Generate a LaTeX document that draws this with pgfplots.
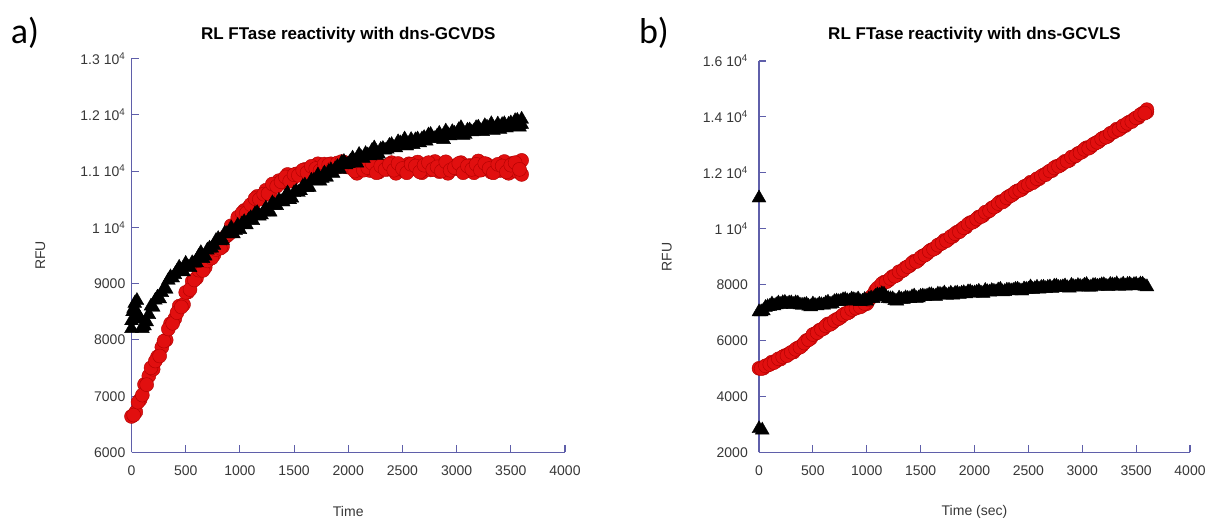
\documentclass[border=0pt]{standalone}
\usepackage{pgfplots}
\pgfplotsset{compat=1.18}
\usepackage{fontspec}
\setmainfont{Liberation Sans}
\newfontfamily\calibri{Carlito}
\definecolor{axcol}{RGB}{95,95,170}
\definecolor{redfill}{RGB}{225,15,15}
\definecolor{rededge}{RGB}{175,0,0}
\definecolor{txt}{RGB}{55,55,55}
\newcommand{\tk}{\fontsize{14}{16}\selectfont}
\pgfplotsset{
  panel/.style={
    scale only axis, anchor=south west,
    axis x line*=bottom, axis y line*=left,
    axis line style={axcol, line width=1.1pt},
    tick style={axcol, line width=1.1pt},
    major tick length=7pt, tick align=inside,
    xmin=0, xmax=4000, xtick={0,500,...,4000},
    xticklabels={0,500,1000,1500,2000,2500,3000,3500,4000},
    xticklabel style={anchor=center, yshift=-18.5pt, font=\tk, text=txt},
    yticklabel style={anchor=east, inner sep=0pt, font=\tk, text=txt},
    scaled y ticks=false,
    clip=false,
    title style={font=\bfseries\fontsize{17}{20}\selectfont, anchor=center},
    xlabel style={anchor=center, font=\tk, text=txt},
    ylabel style={anchor=center, font=\tk, text=txt},
  },
  redser/.style={only marks, mark=*, mark size=7pt, mark options={fill=redfill, draw=rededge, line width=0.4pt}},
  blkser/.style={only marks, mark=triangle*, mark size=8pt, mark options={fill=black, draw=black}},
}
\begin{document}
\begin{tikzpicture}[x=1pt,y=1pt]
\path[use as bounding box] (0,0) rectangle (1213,525);
\node[font=\calibri\fontsize{36}{40}\selectfont, anchor=center] at (25,492) {a)};
\node[font=\calibri\fontsize{36}{40}\selectfont, anchor=center] at (654,492) {b)};
% ---------- panel a ----------
\begin{axis}[panel, at={(131.5pt,72.5pt)}, width=433.5pt, height=394pt,
  ymin=6000, ymax=13000, ytick={6000,7000,...,13000},
  yticklabels={6000,7000,8000,9000,{1 10\textsuperscript{4}},{1.1 10\textsuperscript{4}},{1.2 10\textsuperscript{4}},{1.3 10\textsuperscript{4}}},
  yticklabel style={xshift=-6pt},
  title={RL FTase reactivity with dns-GCVDS},
  title style={at={(axis description cs:0.5,1.045)}},
  xlabel={Time}, xlabel style={at={(axis description cs:0.5,-0.151)}},
  ylabel={RFU}, ylabel style={at={(axis description cs:-0.21,0.5)}},
]
\addplot[redser] coordinates {
(0,6640)(40,6720)(80,6940)(120,7210)(160,7360)(200,7480)(240,7700)(280,7870)(320,8000)(360,8290)
(400,8380)(440,8600)(480,8630)(520,8850)(560,9040)(600,9100)(640,9330)(680,9290)(720,9450)(760,9510)
(800,9650)(840,9660)(880,9850)(920,10030)(960,10050)(1000,10140)(1040,10300)(1080,10350)(1120,10370)(1160,10550)
(1200,10530)(1240,10660)(1280,10600)(1320,10730)(1360,10830)(1400,10800)(1440,10940)(1480,10850)(1520,10950)(1560,10950)
(1600,11030)(1640,10970)(1680,11070)(1720,11130)(1760,11050)(1800,11030)(1840,11130)(1880,11120)(1920,11080)(1960,11160)
(2000,11070)(2040,11130)(2080,10960)(2120,11060)(2160,11120)(2200,11010)(2240,11180)(2280,10980)(2320,11090)(2360,11030)
(2400,11150)(2440,10960)(2480,11100)(2520,11000)(2560,11130)(2600,11040)(2640,11160)(2680,10970)(2720,11080)(2760,11020)
(2800,11170)(2840,10990)(2880,11110)(2920,10960)(2960,11090)(3000,11040)(3040,11150)(3080,11000)(3120,11100)(3160,10970)
(3200,11180)(3240,11030)(3280,11120)(3320,10980)(3360,11070)(3400,11010)(3440,11170)(3480,10960)(3520,11140)(3560,10990)
(3600,11190)(3600,10940)
};
\addplot[redser] coordinates {
(20,6665)(60,6895)(100,7020)(140,7205)(180,7505)(220,7625)(260,7715)(300,7980)(340,8195)(380,8295)
(420,8485)(460,8585)(500,8845)(540,8895)(580,9065)(620,9240)(660,9235)(700,9405)(740,9455)(780,9605)
(820,9630)(860,9820)(900,9885)(940,9960)(980,10180)(1020,10255)(1060,10255)(1100,10405)(1140,10510)(1180,10500)
(1220,10590)(1260,10600)(1300,10770)(1340,10730)(1380,10810)(1420,10895)(1460,10820)(1500,10935)(1540,10925)(1580,11015)
(1620,10975)(1660,11085)(1700,11045)(1740,11010)(1780,11125)(1820,11115)(1860,11055)(1900,11145)(1940,11170)(1980,11075)
(2020,11095)(2060,11000)(2100,11165)(2140,11015)(2180,11060)(2220,11135)(2260,10970)(2300,11090)(2340,11030)(2380,11120)
(2420,11015)(2460,11135)(2500,11045)(2540,10970)(2580,11120)(2620,11090)(2660,10985)(2700,11105)(2740,11150)(2780,11030)
(2820,11075)(2860,11000)(2900,11165)(2940,11015)(2980,11060)(3020,11135)(3060,10970)(3100,11090)(3140,11030)(3180,11120)
(3220,11015)(3260,11135)(3300,11045)(3340,10970)(3380,11120)(3420,11090)(3460,10985)(3500,11105)(3540,11150)(3580,11030)
};
\addplot[blkser] coordinates {
(0,8200)(10,8500)(30,8650)(50,8700)(60,8450)(100,8200)
(0,8340)(40,8400)(80,8370)(120,8250)(160,8450)(200,8580)(240,8760)(280,8840)(320,8900)(360,9120)
(400,9160)(440,9290)(480,9210)(520,9300)(560,9370)(600,9370)(640,9550)(680,9490)(720,9630)(760,9680)
(800,9800)(840,9770)(880,9890)(920,9990)(960,9940)(1000,9960)(1040,10100)(1080,10130)(1120,10120)(1160,10260)
(1200,10220)(1240,10340)(1280,10270)(1320,10390)(1360,10480)(1400,10450)(1440,10610)(1480,10520)(1520,10640)(1560,10650)
(1600,10750)(1640,10710)(1680,10830)(1720,10930)(1760,10870)(1800,10890)(1840,11020)(1880,11040)(1920,11030)(1960,11170)
(2000,11130)(2040,11230)(2080,11140)(2120,11240)(2160,11310)(2200,11270)(2240,11410)(2280,11300)(2320,11400)(2360,11390)
(2400,11470)(2440,11410)(2480,11500)(2520,11570)(2560,11480)(2600,11470)(2640,11570)(2680,11570)(2720,11530)(2760,11650)
(2800,11580)(2840,11670)(2880,11560)(2920,11650)(2960,11700)(3000,11650)(3040,11770)(3080,11650)(3120,11730)(3160,11710)
(3200,11780)(3240,11700)(3280,11780)(3320,11840)(3360,11760)(3400,11740)(3440,11840)(3480,11830)(3520,11790)(3560,11900)
(3600,11830)(3580,11780)(3600,11920)
};
\addplot[blkser] coordinates {
(20,8560)(60,8450)(100,8230)(140,8320)(180,8600)(220,8705)(260,8730)(300,8915)(340,9060)(380,9100)
(420,9220)(460,9220)(500,9360)(540,9285)(580,9365)(620,9485)(660,9445)(700,9595)(740,9630)(780,9765)
(820,9760)(860,9895)(900,9885)(940,9885)(980,10035)(1020,10065)(1060,10045)(1100,10170)(1140,10240)(1180,10200)
(1220,10275)(1260,10275)(1300,10435)(1340,10385)(1380,10460)(1420,10555)(1460,10490)(1500,10615)(1540,10620)(1580,10725)
(1620,10705)(1660,10835)(1700,10825)(1740,10820)(1780,10965)(1820,10990)(1860,10960)(1900,11080)(1940,11150)(1980,11110)
(2020,11175)(2060,11155)(2100,11295)(2140,11225)(2180,11285)(2220,11365)(2260,11280)(2300,11385)(2340,11370)(2380,11455)
(2420,11415)(2460,11520)(2500,11480)(2540,11445)(2580,11560)(2620,11555)(2660,11500)(2700,11595)(2740,11640)(2780,11575)
(2820,11620)(2860,11585)(2900,11710)(2940,11625)(2980,11670)(3020,11735)(3060,11635)(3100,11725)(3140,11695)(3180,11770)
(3220,11715)(3260,11805)(3300,11755)(3340,11720)(3380,11835)(3420,11825)(3460,11765)(3500,11855)(3540,11895)(3580,11825)
};
\end{axis}
% ---------- panel b ----------
\begin{axis}[panel, at={(759pt,72.5pt)}, width=431pt, height=391.5pt,
  ymin=2000, ymax=16000, ytick={2000,4000,...,16000},
  yticklabels={2000,4000,6000,8000,{1 10\textsuperscript{4}},{1.2 10\textsuperscript{4}},{1.4 10\textsuperscript{4}},{1.6 10\textsuperscript{4}}},
  yticklabel style={xshift=-11pt},
  title={RL FTase reactivity with dns-GCVLS},
  title style={at={(axis description cs:0.5,1.051)}},
  xlabel={Time (sec)}, xlabel style={at={(axis description cs:0.5,-0.152)}},
  ylabel={RFU}, ylabel style={at={(axis description cs:-0.2135,0.5)}},
]
\addplot[redser] coordinates {
(0,5010)(40,5015)(80,5120)(120,5235)(160,5275)(200,5340)(240,5465)(280,5535)(320,5590)(360,5740)
(400,5830)(440,6005)(480,6085)(520,6250)(560,6370)(600,6435)(640,6600)(680,6635)(720,6760)(760,6845)
(800,6970)(840,7025)(880,7140)(920,7235)(960,7255)(1000,7320)(1040,7565)(1080,7785)(1120,7930)(1160,8090)
(1200,8150)(1240,8295)(1280,8345)(1320,8480)(1360,8610)(1400,8685)(1440,8840)(1480,8885)(1520,9030)(1560,9115)
(1600,9250)(1640,9315)(1680,9450)(1720,9585)(1760,9635)(1800,9730)(1840,9885)(1880,9975)(1920,10060)(1960,10220)
(2000,10280)(2040,10425)(2080,10475)(2120,10610)(2160,10740)(2200,10815)(2240,10970)(2280,11015)(2320,11160)(2360,11245)
(2400,11360)(2440,11415)(2480,11540)(2520,11665)(2560,11705)(2600,11790)(2640,11925)(2680,12015)(2720,12080)(2760,12230)
(2800,12280)(2840,12415)(2880,12445)(2920,12580)(2960,12690)(3000,12755)(3040,12900)(3080,12935)(3120,13060)(3160,13145)
(3200,13260)(3240,13315)(3280,13440)(3320,13565)(3360,13605)(3400,13690)(3440,13825)(3480,13915)(3520,13980)(3560,14130)
(3600,14180)(3600,14260)
};
\addplot[redser] coordinates {
(20,5000)(60,5100)(100,5150)(140,5215)(180,5350)(220,5420)(260,5465)(300,5585)(340,5690)(380,5765)
(420,5915)(460,6030)(500,6220)(540,6285)(580,6400)(620,6530)(660,6580)(700,6715)(740,6790)(780,6920)
(820,6985)(860,7115)(900,7160)(940,7205)(980,7330)(1020,7460)(1060,7640)(1100,7880)(1140,8035)(1180,8100)
(1220,8220)(1260,8305)(1300,8465)(1340,8520)(1380,8645)(1420,8775)(1460,8825)(1500,8975)(1540,9060)(1580,9195)
(1620,9270)(1660,9415)(1700,9490)(1740,9570)(1780,9725)(1820,9825)(1860,9895)(1900,10040)(1940,10165)(1980,10230)
(2020,10350)(2060,10435)(2100,10595)(2140,10650)(2180,10775)(2220,10905)(2260,10955)(2300,11105)(2340,11190)(2380,11315)
(2420,11375)(2460,11510)(2500,11575)(2540,11645)(2580,11790)(2620,11875)(2660,11935)(2700,12070)(2740,12180)(2780,12235)
(2820,12345)(2860,12415)(2900,12565)(2940,12610)(2980,12720)(3020,12840)(3060,12880)(3100,13015)(3140,13090)(3180,13215)
(3220,13275)(3260,13410)(3300,13475)(3340,13545)(3380,13690)(3420,13775)(3460,13835)(3500,13970)(3540,14080)(3580,14135)
};
\addplot[blkser] coordinates {
(0,11100)(0,2850)(30,2800)
(0,7030)(40,7065)(80,7215)(120,7310)(160,7280)(200,7290)(240,7370)(280,7345)(320,7290)(360,7340)
(400,7265)(440,7295)(480,7210)(520,7260)(560,7300)(600,7270)(640,7375)(680,7325)(720,7415)(760,7415)
(800,7470)(840,7415)(880,7465)(920,7490)(960,7410)(1000,7410)(1040,7520)(1080,7585)(1120,7620)(1160,7660)
(1200,7505)(1240,7495)(1280,7410)(1320,7480)(1360,7530)(1400,7500)(1440,7595)(1480,7525)(1520,7595)(1560,7595)
(1600,7640)(1640,7585)(1680,7655)(1720,7700)(1760,7640)(1800,7630)(1840,7700)(1880,7695)(1920,7670)(1960,7750)
(2000,7705)(2040,7765)(2080,7690)(2120,7750)(2160,7790)(2200,7750)(2240,7835)(2280,7755)(2320,7805)(2360,7795)
(2400,7840)(2440,7775)(2480,7835)(2520,7920)(2560,7860)(2600,7840)(2640,7910)(2680,7905)(2720,7870)(2760,7950)
(2800,7905)(2840,7955)(2880,7880)(2920,7930)(2960,7970)(3000,7920)(3040,8005)(3080,7915)(3120,7975)(3160,7955)
(3200,8000)(3240,7935)(3280,7995)(3320,8030)(3360,7970)(3400,7950)(3440,8020)(3480,8005)(3520,7960)(3560,8020)
(3600,7925)
};
\addplot[blkser] coordinates {
(20,7030)(60,7185)(100,7225)(140,7240)(180,7345)(220,7355)(260,7310)(300,7350)(340,7350)(380,7275)
(420,7275)(460,7230)(500,7310)(540,7245)(580,7280)(620,7340)(660,7300)(700,7395)(740,7395)(780,7460)
(820,7425)(860,7485)(900,7440)(940,7395)(980,7470)(1020,7490)(1060,7505)(1100,7635)(1140,7675)(1180,7555)
(1220,7495)(1260,7430)(1300,7520)(1340,7470)(1380,7510)(1420,7565)(1460,7510)(1500,7585)(1540,7575)(1580,7635)
(1620,7595)(1660,7665)(1700,7640)(1740,7615)(1780,7695)(1820,7690)(1860,7650)(1900,7715)(1940,7745)(1980,7700)
(2020,7730)(2060,7705)(2100,7795)(2140,7735)(2180,7765)(2220,7810)(2260,7745)(2300,7805)(2340,7780)(2380,7835)
(2420,7790)(2460,7850)(2500,7840)(2540,7835)(2580,7910)(2620,7900)(2660,7860)(2700,7920)(2740,7945)(2780,7900)
(2820,7925)(2860,7895)(2900,7980)(2940,7915)(2980,7940)(3020,7980)(3060,7910)(3100,7970)(3140,7945)(3180,7995)
(3220,7950)(3260,8010)(3300,7975)(3340,7945)(3380,8020)(3420,8010)(3460,7965)(3500,8015)(3540,8025)(3580,7945)
};
\end{axis}
\end{tikzpicture}
\end{document}
